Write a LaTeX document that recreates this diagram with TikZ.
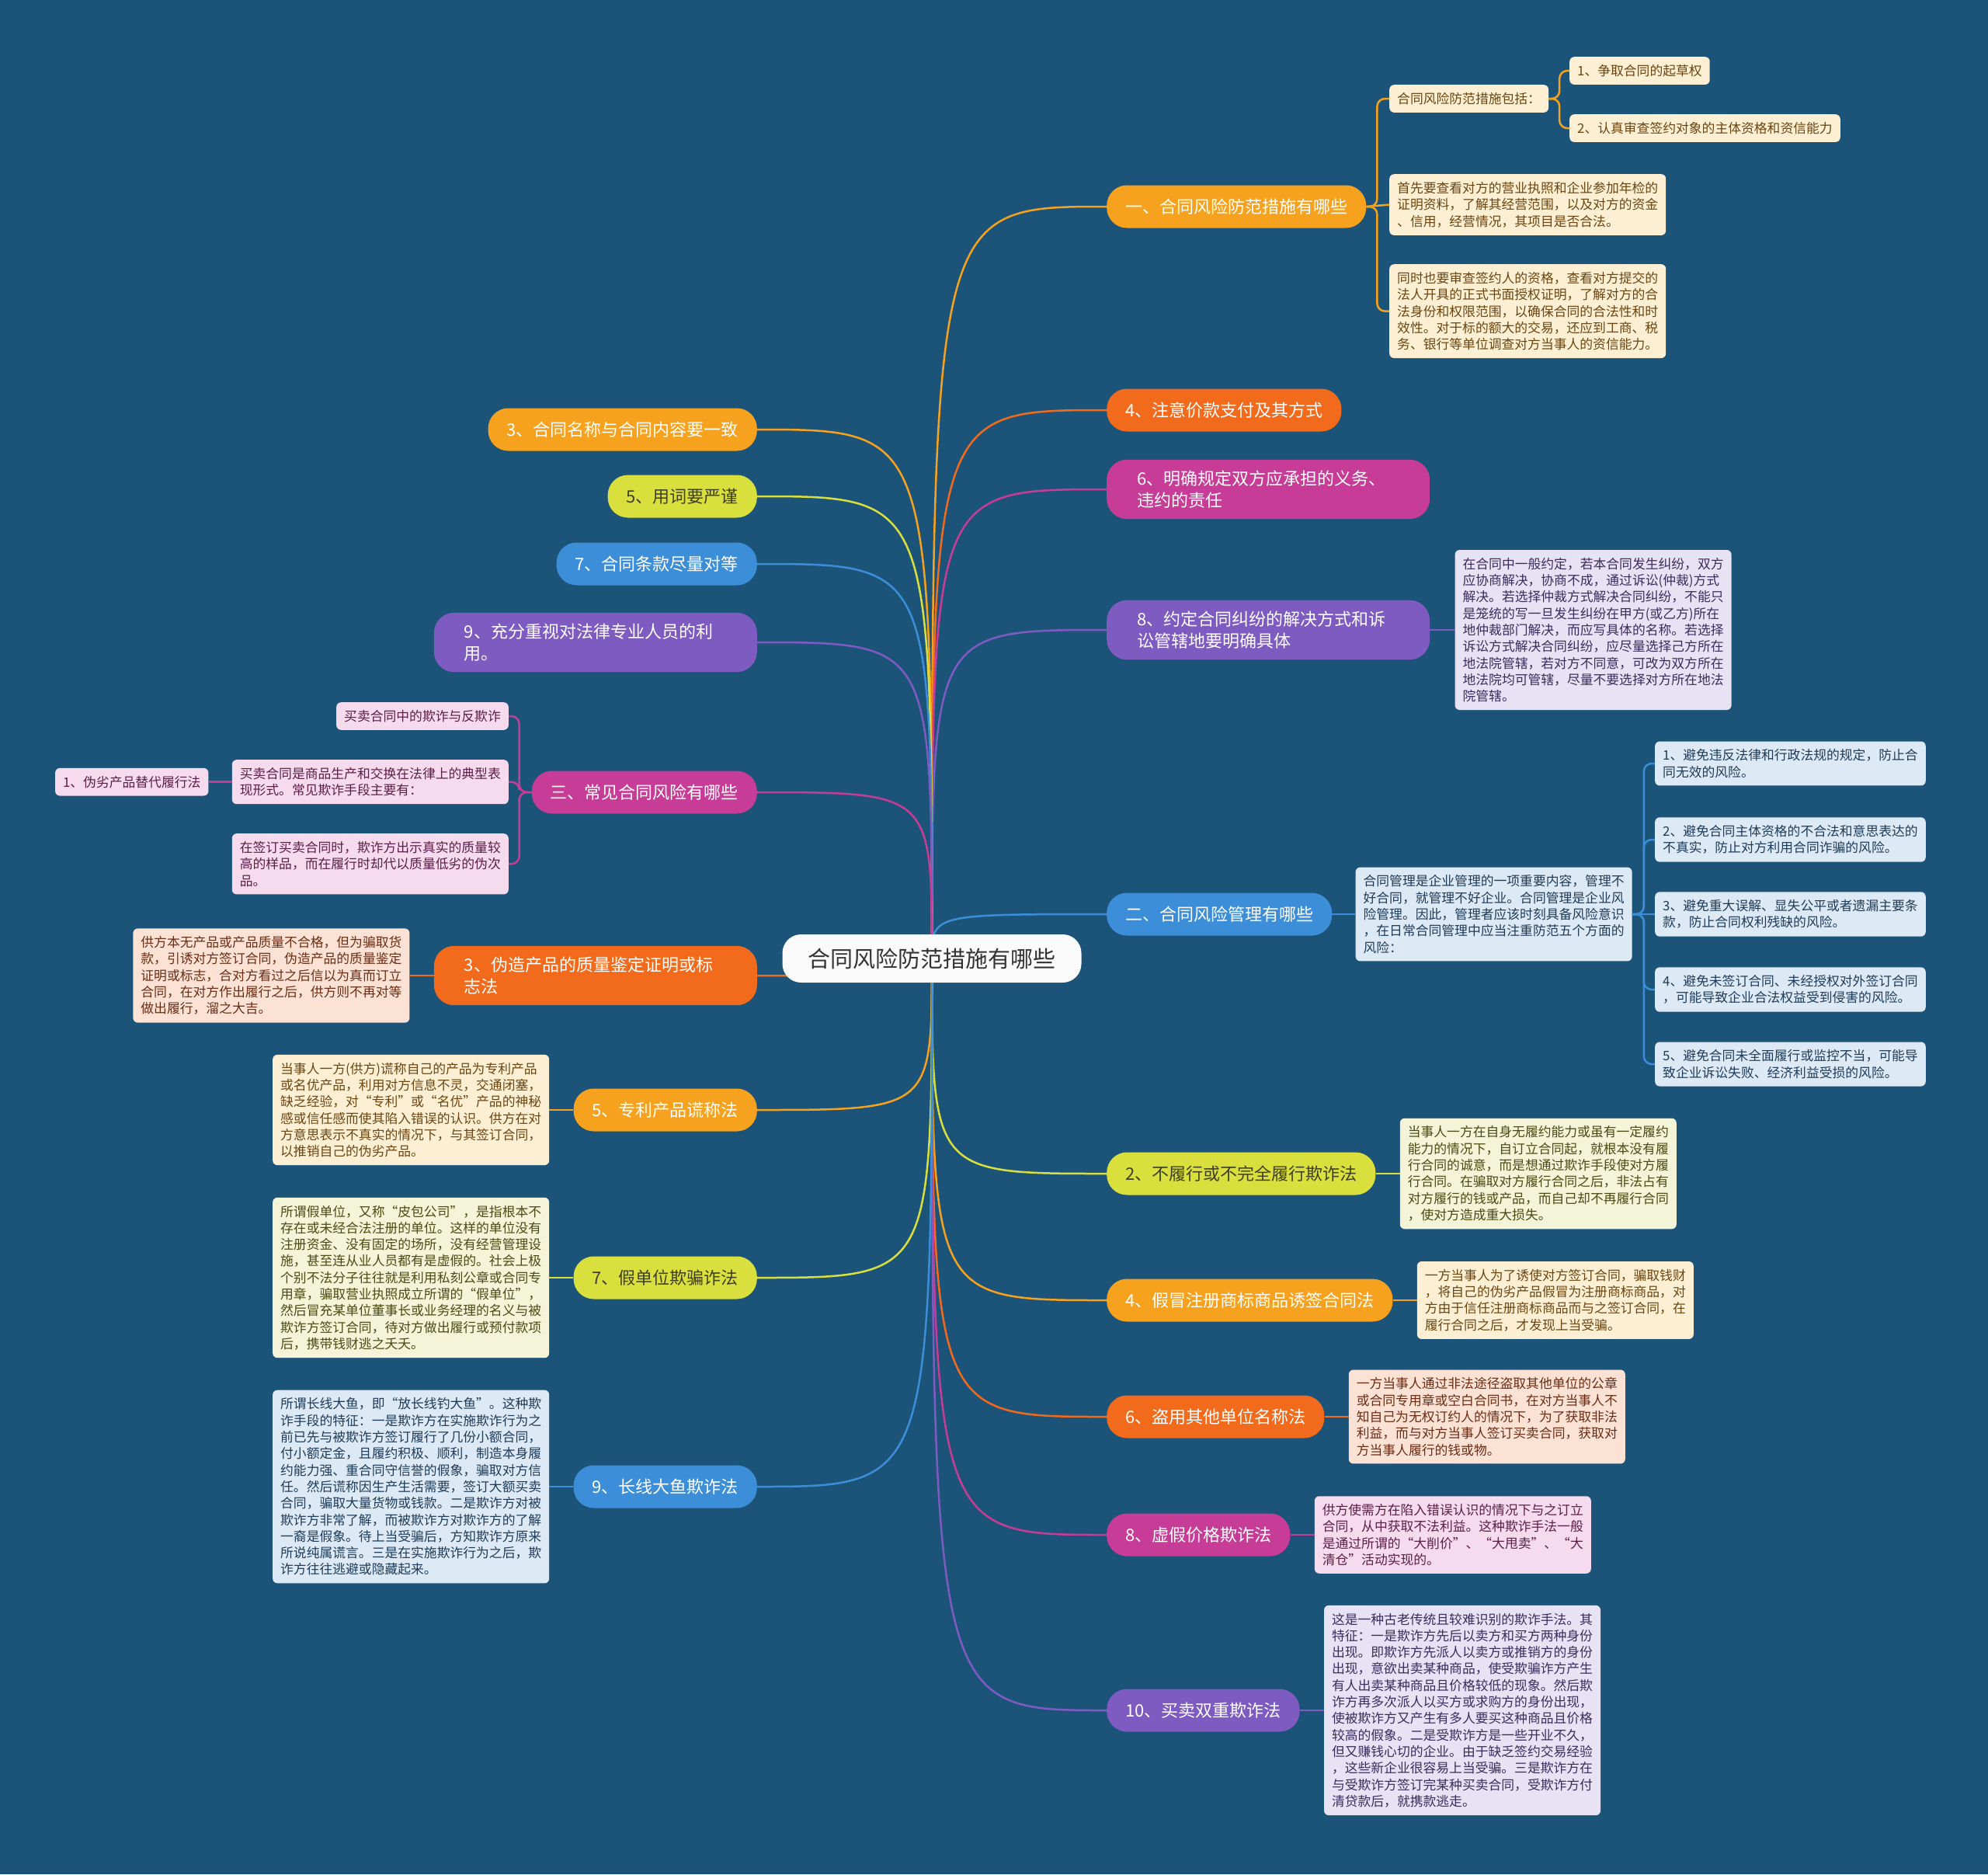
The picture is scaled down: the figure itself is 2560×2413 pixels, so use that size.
\documentclass[tikz,border=0pt]{standalone}
\usepackage{fontspec}
\setmainfont{Noto Sans CJK SC}
\usetikzlibrary{positioning}

\definecolor{bgblue}{HTML}{1B5379}
\definecolor{corange}{HTML}{F7A21E}
\definecolor{cred}{HTML}{F26A1C}
\definecolor{cyellow}{HTML}{D9DF3C}
\definecolor{cblue}{HTML}{3D8ED8}
\definecolor{cpurple}{HTML}{7E5BC0}
\definecolor{cmagenta}{HTML}{C73C96}
\definecolor{ydark}{HTML}{3F3F26}
\definecolor{lorange}{HTML}{FDEFD3}
\definecolor{torange}{HTML}{6A4512}
\definecolor{lred}{HTML}{FCE2D5}
\definecolor{tred}{HTML}{6A2C14}
\definecolor{lyellow}{HTML}{F3F4D8}
\definecolor{tyellow}{HTML}{4A4A14}
\definecolor{lblue}{HTML}{DDEAF6}
\definecolor{tblue}{HTML}{1F3B57}
\definecolor{lpurple}{HTML}{E7E2F4}
\definecolor{tpurple}{HTML}{3A2D5C}
\definecolor{lmagenta}{HTML}{F6DAED}
\definecolor{tmagenta}{HTML}{5A1F47}

\tikzset{
  rootbox/.style={fill=white!96!gray, rounded corners=24pt, inner xsep=33pt,
    minimum height=62pt, text=black!80, font=\fontsize{29}{34}\selectfont},
  branch/.style={rounded corners=26pt, inner xsep=24pt, inner ysep=14pt,
    minimum height=55pt, text=white, font=\fontsize{22}{28}\selectfont},
  branchtwo/.style={branch, text width=338pt, inner xsep=39pt, align=left},
  leaf/.style={rounded corners=6pt, inner xsep=10pt, inner ysep=10pt,
    align=left, font=\fontsize{16.8}{21.3}\selectfont},
  leaforange/.style={leaf, fill=lorange, text=torange},
  leafred/.style={leaf, fill=lred, text=tred},
  leafyellow/.style={leaf, fill=lyellow, text=tyellow},
  leafblue/.style={leaf, fill=lblue, text=tblue},
  leafpurple/.style={leaf, fill=lpurple, text=tpurple},
  leafmagenta/.style={leaf, fill=lmagenta, text=tmagenta},
  link/.style={line width=2.5pt},
  sublink/.style={line width=2.5pt, rounded corners=10pt}
}

\begin{document}
\begin{tikzpicture}[x=1pt, y=-1pt]
  \fill[bgblue] (0,0) rectangle (2560,2413);
  \useasboundingbox (0,0) rectangle (2560,2413);
  \coordinate (hub) at (1200,1234);

  % right branches
  \node[branch, fill=corange, anchor=west] (r1) at (1425,266) {一、合同风险防范措施有哪些};
  \node[branch, fill=cred, anchor=west] (r2) at (1425,528) {4、注意价款支付及其方式};
  \node[branchtwo, fill=cmagenta, anchor=west] (r3) at (1425,630) {6、明确规定双方应承担的义务、\\违约的责任};
  \node[branchtwo, fill=cpurple, anchor=west] (r4) at (1425,811) {8、约定合同纠纷的解决方式和诉\\讼管辖地要明确具体};
  \node[branch, fill=cblue, anchor=west] (r5) at (1425,1177) {二、合同风险管理有哪些};
  \node[branch, fill=cyellow, text=ydark, anchor=west] (r6) at (1425,1511) {2、不履行或不完全履行欺诈法};
  \node[branch, fill=corange, anchor=west] (r7) at (1425,1674) {4、假冒注册商标商品诱签合同法};
  \node[branch, fill=cred, anchor=west] (r8) at (1425,1824) {6、盗用其他单位名称法};
  \node[branch, fill=cmagenta, anchor=west] (r9) at (1425,1976) {8、虚假价格欺诈法};
  \node[branch, fill=cpurple, anchor=west] (r10) at (1425,2202) {10、买卖双重欺诈法};

  % left branches
  \node[branch, fill=corange, anchor=east] (l1) at (975,553) {3、合同名称与合同内容要一致};
  \node[branch, fill=cyellow, text=ydark, anchor=east] (l2) at (975,639) {5、用词要严谨};
  \node[branch, fill=cblue, anchor=east] (l3) at (975,726) {7、合同条款尽量对等};
  \node[branchtwo, fill=cpurple, anchor=east] (l4) at (975,827) {9、充分重视对法律专业人员的利\\用。};
  \node[branch, fill=cmagenta, anchor=east] (l5) at (975,1020) {三、常见合同风险有哪些};
  \node[branchtwo, fill=cred, anchor=east] (l6) at (975,1256) {3、伪造产品的质量鉴定证明或标\\志法};
  \node[branch, fill=corange, anchor=east] (l7) at (975,1429) {5、专利产品谎称法};
  \node[branch, fill=cyellow, text=ydark, anchor=east] (l8) at (975,1645) {7、假单位欺骗诈法};
  \node[branch, fill=cblue, anchor=east] (l9) at (975,1914) {9、长线大鱼欺诈法};

  % leaves of r1
  \node[leaforange, anchor=north west] (r1a) at (1789,109) {合同风险防范措施包括：};
  \node[leaforange, anchor=north west] (r1a1) at (2021,73) {1、争取合同的起草权};
  \node[leaforange, anchor=north west] (r1a2) at (2021,147) {2、认真审查签约对象的主体资格和资信能力};
  \node[leaforange, anchor=north west] (r1b) at (1789,224) {首先要查看对方的营业执照和企业参加年检的\\证明资料，了解其经营范围，以及对方的资金\\、信用，经营情况，其项目是否合法。};
  \node[leaforange, anchor=north west] (r1c) at (1789,340) {同时也要审查签约人的资格，查看对方提交的\\法人开具的正式书面授权证明，了解对方的合\\法身份和权限范围，以确保合同的合法性和时\\效性。对于标的额大的交易，还应到工商、税\\务、银行等单位调查对方当事人的资信能力。};

  \node[leafpurple, right=32pt of r4] (r4a) {在合同中一般约定，若本合同发生纠纷，双方\\应协商解决，协商不成，通过诉讼(仲裁)方式\\解决。若选择仲裁方式解决合同纠纷，不能只\\是笼统的写一旦发生纠纷在甲方(或乙方)所在\\地仲裁部门解决，而应写具体的名称。若选择\\诉讼方式解决合同纠纷，应尽量选择己方所在\\地法院管辖，若对方不同意，可改为双方所在\\地法院均可管辖，尽量不要选择对方所在地法\\院管辖。};

  % leaves of r5
  \node[leafblue, right=30pt of r5] (r5a) {合同管理是企业管理的一项重要内容，管理不\\好合同，就管理不好企业。合同管理是企业风\\险管理。因此，管理者应该时刻具备风险意识\\，在日常合同管理中应当注重防范五个方面的\\风险：};
  \node[leafblue, anchor=west] (r5b1) at (2131,983) {1、避免违反法律和行政法规的规定，防止合\\同无效的风险。};
  \node[leafblue, anchor=west] (r5b2) at (2131,1081) {2、避免合同主体资格的不合法和意思表达的\\不真实，防止对方利用合同诈骗的风险。};
  \node[leafblue, anchor=west] (r5b3) at (2131,1177) {3、避免重大误解、显失公平或者遗漏主要条\\款，防止合同权利残缺的风险。};
  \node[leafblue, anchor=west] (r5b4) at (2131,1274) {4、避免未签订合同、未经授权对外签订合同\\，可能导致企业合法权益受到侵害的风险。};
  \node[leafblue, anchor=west] (r5b5) at (2131,1370) {5、避免合同未全面履行或监控不当，可能导\\致企业诉讼失败、经济利益受损的风险。};

  \node[leafyellow, right=31pt of r6] (r6a) {当事人一方在自身无履约能力或虽有一定履约\\能力的情况下，自订立合同起，就根本没有履\\行合同的诚意，而是想通过欺诈手段使对方履\\行合同。在骗取对方履行合同之后，非法占有\\对方履行的钱或产品，而自己却不再履行合同\\，使对方造成重大损失。};
  \node[leaforange, right=31pt of r7] (r7a) {一方当事人为了诱使对方签订合同，骗取钱财\\，将自己的伪劣产品假冒为注册商标商品，对\\方由于信任注册商标商品而与之签订合同，在\\履行合同之后，才发现上当受骗。};
  \node[leafred, right=31pt of r8] (r8a) {一方当事人通过非法途径盗取其他单位的公章\\或合同专用章或空白合同书，在对方当事人不\\知自己为无权订约人的情况下，为了获取非法\\利益，而与对方当事人签订买卖合同，获取对\\方当事人履行的钱或物。};
  \node[leafmagenta, right=31pt of r9] (r9a) {供方使需方在陷入错误认识的情况下与之订立\\合同，从中获取不法利益。这种欺诈手法一般\\是通过所谓的“大削价”、“大甩卖”、“大\\清仓”活动实现的。};
  \node[leafpurple, right=31pt of r10] (r10a) {这是一种古老传统且较难识别的欺诈手法。其\\特征：一是欺诈方先后以卖方和买方两种身份\\出现。即欺诈方先派人以卖方或推销方的身份\\出现，意欲出卖某种商品，使受欺骗诈方产生\\有人出卖某种商品且价格较低的现象。然后欺\\诈方再多次派人以买方或求购方的身份出现，\\使被欺诈方又产生有多人要买这种商品且价格\\较高的假象。二是受欺诈方是一些开业不久，\\但又赚钱心切的企业。由于缺乏签约交易经验\\，这些新企业很容易上当受骗。三是欺诈方在\\与受欺诈方签订完某种买卖合同，受欺诈方付\\清贷款后，就携款逃走。};

  % leaves of l5
  \node[leafmagenta, anchor=north east] (l5a) at (655,904) {买卖合同中的欺诈与反欺诈};
  \node[leafmagenta, anchor=north east] (l5b) at (655,978) {买卖合同是商品生产和交换在法律上的典型表\\现形式。常见欺诈手段主要有：};
  \node[leafmagenta, left=30pt of l5b] (l5b1) {1、伪劣产品替代履行法};
  \node[leafmagenta, anchor=north east] (l5c) at (655,1073) {在签订买卖合同时，欺诈方出示真实的质量较\\高的样品，而在履行时却代以质量低劣的伪次\\品。};

  \node[leafred, left=31pt of l6] (l6a) {供方本无产品或产品质量不合格，但为骗取货\\款，引诱对方签订合同，伪造产品的质量鉴定\\证明或标志，合对方看过之后信以为真而订立\\合同，在对方作出履行之后，供方则不再对等\\做出履行，溜之大吉。};
  \node[leaforange, left=31pt of l7] (l7a) {当事人一方(供方)谎称自己的产品为专利产品\\或名优产品，利用对方信息不灵，交通闭塞，\\缺乏经验，对“专利”或“名优”产品的神秘\\感或信任感而使其陷入错误的认识。供方在对\\方意思表示不真实的情况下，与其签订合同，\\以推销自己的伪劣产品。};
  \node[leafyellow, left=31pt of l8] (l8a) {所谓假单位，又称“皮包公司”，是指根本不\\存在或未经合法注册的单位。这样的单位没有\\注册资金、没有固定的场所，没有经营管理设\\施，甚至连从业人员都有是虚假的。社会上极\\个别不法分子往往就是利用私刻公章或合同专\\用章，骗取营业执照成立所谓的“假单位”，\\然后冒充某单位董事长或业务经理的名义与被\\欺诈方签订合同，待对方做出履行或预付款项\\后，携带钱财逃之夭夭。};
  \node[leafblue, left=31pt of l9] (l9a) {所谓长线大鱼，即“放长线钓大鱼”。这种欺\\诈手段的特征：一是欺诈方在实施欺诈行为之\\前已先与被欺诈方签订履行了几份小额合同，\\付小额定金，且履约积极、顺利，制造本身履\\约能力强、重合同守信誉的假象，骗取对方信\\任。然后谎称因生产生活需要，签订大额买卖\\合同，骗取大量货物或钱款。二是欺诈方对被\\欺诈方非常了解，而被欺诈方对欺诈方的了解\\一裔是假象。待上当受骗后，方知欺诈方原来\\所说纯属谎言。三是在实施欺诈行为之后，欺\\诈方往往逃避或隐藏起来。};

  % links from the centre
  \draw[link, corange] (hub) .. controls (hub |- r1.west) .. (r1.west);
  \draw[link, cred] (hub) .. controls (hub |- r2.west) .. (r2.west);
  \draw[link, cmagenta] (hub) .. controls (hub |- r3.west) .. (r3.west);
  \draw[link, cpurple] (hub) .. controls (hub |- r4.west) .. (r4.west);
  \draw[link, cblue] (hub) .. controls (hub |- r5.west) .. (r5.west);
  \draw[link, cyellow] (hub) .. controls (hub |- r6.west) .. (r6.west);
  \draw[link, corange] (hub) .. controls (hub |- r7.west) .. (r7.west);
  \draw[link, cred] (hub) .. controls (hub |- r8.west) .. (r8.west);
  \draw[link, cmagenta] (hub) .. controls (hub |- r9.west) .. (r9.west);
  \draw[link, cpurple] (hub) .. controls (hub |- r10.west) .. (r10.west);
  \draw[link, corange] (hub) .. controls (hub |- l1.east) .. (l1.east);
  \draw[link, cyellow] (hub) .. controls (hub |- l2.east) .. (l2.east);
  \draw[link, cblue] (hub) .. controls (hub |- l3.east) .. (l3.east);
  \draw[link, cpurple] (hub) .. controls (hub |- l4.east) .. (l4.east);
  \draw[link, cmagenta] (hub) .. controls (hub |- l5.east) .. (l5.east);
  \draw[link, cred] (hub) .. controls (hub |- l6.east) .. (l6.east);
  \draw[link, corange] (hub) .. controls (hub |- l7.east) .. (l7.east);
  \draw[link, cyellow] (hub) .. controls (hub |- l8.east) .. (l8.east);
  \draw[link, cblue] (hub) .. controls (hub |- l9.east) .. (l9.east);

  % links to leaves
  \draw[sublink, corange] (r1.east) -- ++(14,0) |- (r1a.west);
  \draw[sublink, corange] (r1.east) -- (r1b.west);
  \draw[sublink, corange] (r1.east) -- ++(14,0) |- (r1c.west);
  \draw[sublink, corange] (r1a.east) -- ++(14,0) |- (r1a1.west);
  \draw[sublink, corange] (r1a.east) -- ++(14,0) |- (r1a2.west);
  \draw[link, cpurple] (r4) -- (r4a);
  \draw[link, cblue] (r5) -- (r5a);
  \draw[sublink, cblue] (r5a.east) -- ++(15,0) |- (r5b1.west);
  \draw[sublink, cblue] (r5a.east) -- ++(15,0) |- (r5b2.west);
  \draw[sublink, cblue] (r5a.east) -- (r5b3.west);
  \draw[sublink, cblue] (r5a.east) -- ++(15,0) |- (r5b4.west);
  \draw[sublink, cblue] (r5a.east) -- ++(15,0) |- (r5b5.west);
  \draw[link, cyellow] (r6) -- (r6a);
  \draw[link, corange] (r7) -- (r7a);
  \draw[link, cred] (r8) -- (r8a);
  \draw[link, cmagenta] (r9) -- (r9a);
  \draw[link, cpurple] (r10) -- (r10a);
  \draw[sublink, cmagenta] (l5.west) -- ++(-16,0) |- (l5a.east);
  \draw[sublink, cmagenta] (l5.west) -- ++(-16,0) |- (l5b.east);
  \draw[sublink, cmagenta] (l5.west) -- ++(-16,0) |- (l5c.east);
  \draw[link, cmagenta] (l5b) -- (l5b1);
  \draw[link, cred] (l6) -- (l6a);
  \draw[link, corange] (l7) -- (l7a);
  \draw[link, cyellow] (l8) -- (l8a);
  \draw[link, cblue] (l9) -- (l9a);

  % centre on top of the links
  \node[rootbox] (root) at (hub) {合同风险防范措施有哪些};
\end{tikzpicture}
\end{document}
